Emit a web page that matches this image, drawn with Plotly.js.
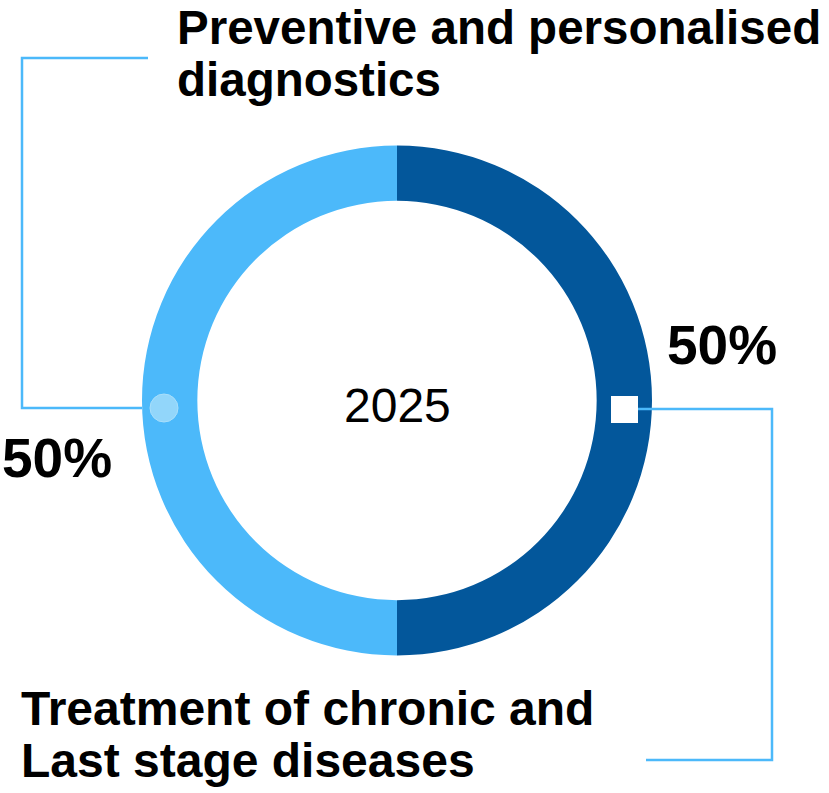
<!DOCTYPE html>
<html><head><meta charset="utf-8">
<script src="https://cdn.plot.ly/plotly-3.0.1.min.js"></script>
<style>html,body{margin:0;padding:0;background:#fff;}</style>
</head><body>
<div id="chart" style="width:829px;height:793px;"></div>
<script>
const categories = ["Treatment of chronic and<br>Last stage diseases", "Preventive and personalised<br>diagnostics"];
const values = [50, 50];
const colors = ["#03579B", "#4CB9FA"];
const centerLabel = "2025";

const W = 829, H = 793;
const cx = 397, cy = 400.5, R = 255;
const px = x => x / W;
const py = y => 1 - y / H;

const total = values.reduce((a, b) => a + b, 0);
const pct = v => Math.round(v / total * 100) + "%";

const font = "Liberation Sans, Arial, sans-serif";
const data = [{
  type: "pie",
  values: values,
  labels: categories,
  marker: {colors: colors, line: {width: 0}},
  hole: 0.783,
  sort: false,
  direction: "clockwise",
  rotation: 0,
  textinfo: "none",
  hoverinfo: "label+percent",
  domain: {x: [px(cx - R), px(cx + R)], y: [py(cy + R), py(cy - R)]}
}];

const lineC = "#4CB9FA";
const shapes = [
  {type: "path", xref: "paper", yref: "paper",
   path: `M ${px(148)} ${py(58)} L ${px(22)} ${py(58)} L ${px(22)} ${py(408)} L ${px(142)} ${py(408)}`,
   line: {color: lineC, width: 2.5}},
  {type: "path", xref: "paper", yref: "paper",
   path: `M ${px(638)} ${py(409)} L ${px(772)} ${py(409)} L ${px(772)} ${py(760)} L ${px(646)} ${py(760)}`,
   line: {color: lineC, width: 2.5}},
  {type: "circle", xref: "paper", yref: "paper",
   x0: px(150), x1: px(178), y0: py(422), y1: py(394),
   fillcolor: "#92D6FA", line: {color: "#A9DFFA", width: 1}},
  {type: "rect", xref: "paper", yref: "paper",
   x0: px(611), x1: px(638), y0: py(423), y1: py(396),
   fillcolor: "#FFFFFF", line: {width: 0}}
];

function labelLines(label, x, ys, size) {
  return label.split("<br>").map((t, i) => ({
    text: "<b>" + t + "</b>", x: px(x), y: py(ys[i]), xref: "paper", yref: "paper",
    xanchor: "left", yanchor: "middle", align: "left", showarrow: false, borderpad: 0,
    font: {family: font, size: size, color: "#000"}
  }));
}

const annotations = [
  ...labelLines(categories[1], 176, [28, 80], 47.5),
  ...labelLines(categories[0], 20, [708, 760], 48),
  {text: "<b>" + pct(values[0]) + "</b>", x: px(722), y: py(345), xref: "paper", yref: "paper",
   xanchor: "center", yanchor: "middle", showarrow: false,
   font: {family: font, size: 55, color: "#000"}},
  {text: "<b>" + pct(values[1]) + "</b>", x: px(57), y: py(458), xref: "paper", yref: "paper",
   xanchor: "center", yanchor: "middle", showarrow: false,
   font: {family: font, size: 55, color: "#000"}},
  {text: centerLabel, x: px(cx), y: py(405.5), xref: "paper", yref: "paper",
   xanchor: "center", yanchor: "middle", showarrow: false,
   font: {family: font, size: 48, color: "#000"}}
];

const layout = {
  width: W, height: H,
  margin: {l: 0, r: 0, t: 0, b: 0},
  paper_bgcolor: "#fff", plot_bgcolor: "#fff",
  showlegend: false,
  shapes: shapes,
  annotations: annotations
};
Plotly.newPlot("chart", data, layout, {displayModeBar: false});
</script>
</body></html>
